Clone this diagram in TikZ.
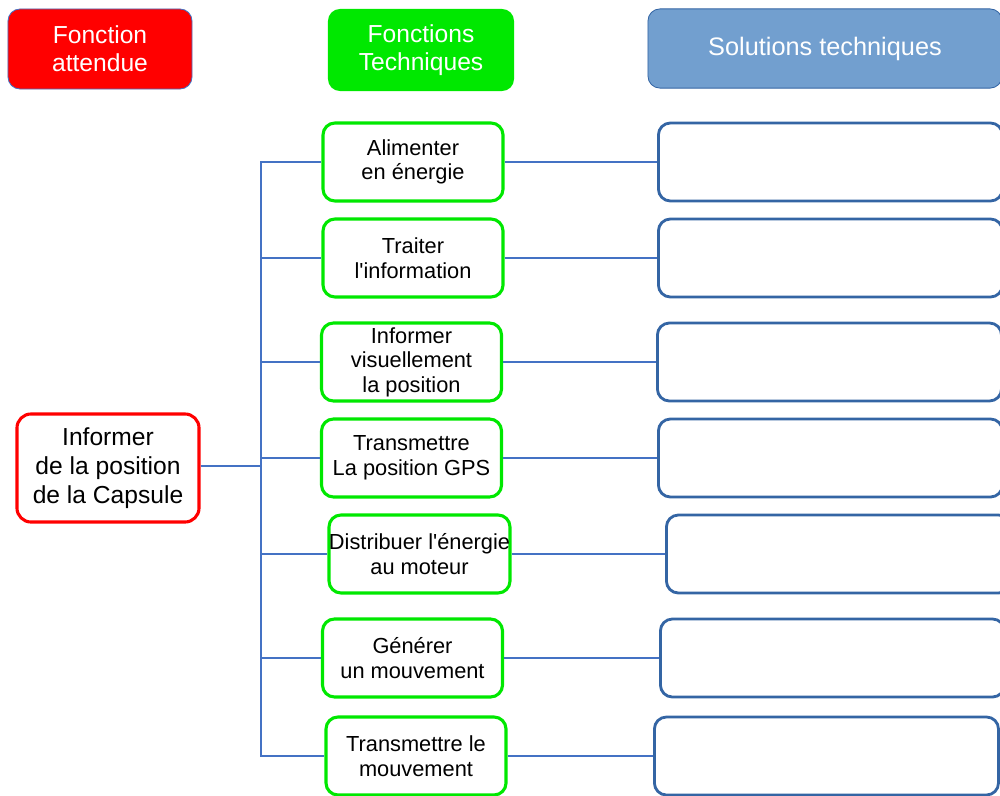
\documentclass[tikz,border=0pt]{standalone}
\usepackage{fontspec}
\setmainfont{Liberation Sans}[Ligatures=TeXOff]
\definecolor{fagreen}{RGB}{0,232,0}
\definecolor{stfill}{RGB}{114,159,207}
\definecolor{stline}{RGB}{52,101,164}
\definecolor{linkblue}{RGB}{68,114,196}
\tikzset{
    header/.style = {
        rounded corners=0.3cm,
        align=center,
        text=white,
        font=\fontsize{17.5}{20}\selectfont,
        },
    ft box/.style = {
        draw=fagreen,
        line width=2.2pt,
        rounded corners=0.3cm,
        fill=white,
        minimum width=4.5cm,
        minimum height=1.95cm,
        align=center,
        font=\fontsize{15.5}{17.5}\selectfont,
        inner sep=0pt,
        },
    st box/.style = {
        draw=stline,
        line width=2pt,
        rounded corners=0.3cm,
        fill=white,
        anchor=west,
        minimum width=8.6cm,
        minimum height=1.95cm,
        },
    link/.style = {
        draw=linkblue,
        line width=0.8pt,
        },
}
\begin{document}
\begin{tikzpicture}[x=0.025cm, y=-0.025cm]
    \clip (0,0) rectangle (1000,796);

    % en-tetes
    \node [header, draw=linkblue, line width=0.6pt, fill=red, minimum width=4.6cm, minimum height=2cm] (hfa) at (100,49) {Fonction\\attendue};
    \node [header, fill=fagreen, minimum width=4.65cm, minimum height=2.05cm] (hft) at (421,50) {Fonctions\\Techniques};
    \node [header, draw=stline, line width=0.6pt, fill=stfill, minimum width=8.85cm, minimum height=1.98cm, font=\fontsize{18}{20}\selectfont, text depth=0.1cm] (hst) at (825,48.5) {Solutions techniques};

    % fonction attendue
    \node [draw=red, line width=2.2pt, rounded corners=0.35cm, minimum width=4.55cm, minimum height=2.7cm, align=center, font=\fontsize{17.5}{20.5}\selectfont] (fa) at (108,468) {Informer\\de la position\\de la Capsule};

    % fonctions techniques
    \node [ft box] (f1) at (413,162) {Alimenter\\en énergie};
    \node [ft box] (f2) at (413,258) {Traiter\\l'information};
    \node [ft box] (f3) at (411.5,362) {Informer\\visuellement\\la position};
    \node [ft box] (f4) at (411.5,458) {Transmettre\\La position GPS};
    \node [ft box] (f5) at (419.5,554) {Distribuer l'énergie\\au moteur};
    \node [ft box] (f6) at (412.5,658) {Générer\\un mouvement};
    \node [ft box] (f7) at (416,756) {Transmettre le\\mouvement};

    % solutions techniques
    \node [st box] (s1) at (657,162) {};
    \node [st box] (s2) at (657,258) {};
    \node [st box] (s3) at (656,362) {};
    \node [st box] (s4) at (657,458) {};
    \node [st box] (s5) at (665,554) {};
    \node [st box] (s6) at (659,658) {};
    \node [st box] (s7) at (653,756) {};

    \coordinate (jn) at (261,466);
    \draw [link] (fa.east |- jn) -- (jn);
    \foreach \i in {1,...,7} {
        \draw [link] (jn) |- (f\i.west);
        \draw [link] (f\i.east) -- (s\i.west);
    }
\end{tikzpicture}
\end{document}
